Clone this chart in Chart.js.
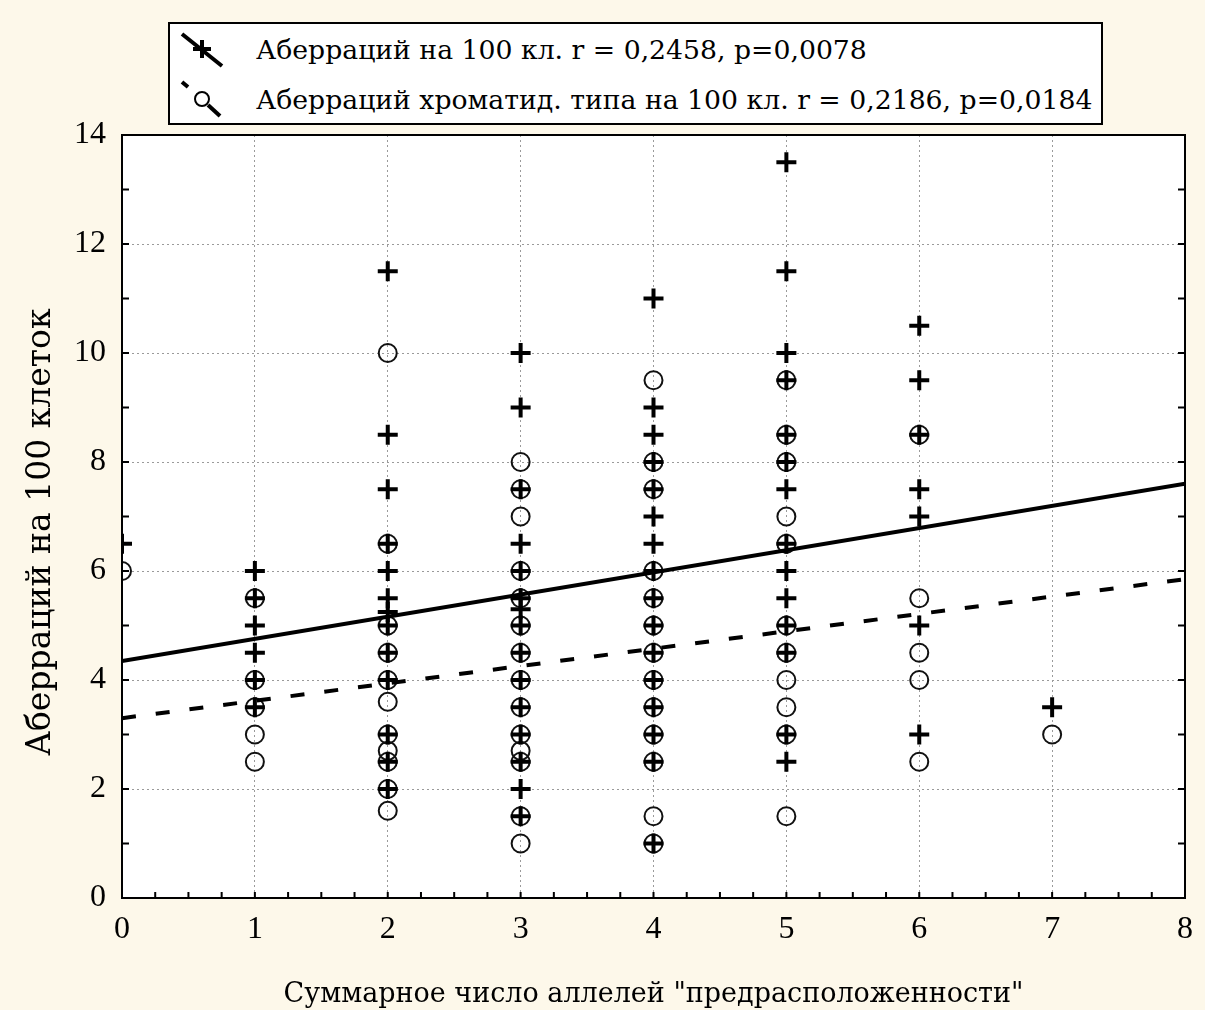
<!DOCTYPE html>
<html lang="ru">
<head>
  <meta charset="UTF-8" />
  <title>Аберрации и число аллелей</title>
  <script src="https://cdn.jsdelivr.net/npm/chart.js"></script>
  <style>
    html, body { margin: 0; padding: 0; background: #fdf8ea; }
    #wrap { position: relative; width: 1205px; height: 1010px; }
    #legend {
      position: absolute; left: 168px; top: 22px; width: 931px; height: 99px;
      border: 2px solid #000; background: #fff;
      font-family: "DejaVu Serif", serif; font-size: 26.7px; color: #000;
    }
    .row { position: absolute; left: 0; height: 50px; display: flex; align-items: center; }
    .row svg { width: 60px; height: 46px; margin-left: 6px; margin-right: 20px; }
  </style>
</head>
<body>
  <div id="wrap">
    <canvas id="chart"></canvas>
    <div id="legend">
      <div class="row" style="top:0px">
        <svg viewBox="0 0 60 46"><line x1="6" y1="8" x2="46" y2="40" stroke="#000" stroke-width="4"/><path d="M26 14v18M17 23h18" stroke="#000" stroke-width="4"/></svg>
        <span>Аберраций на 100 кл. r = 0,2458, p=0,0078</span>
      </div>
      <div class="row" style="top:50px">
        <svg viewBox="0 0 60 46"><line x1="6" y1="6" x2="12" y2="11" stroke="#000" stroke-width="4"/><circle cx="26" cy="23" r="7" fill="none" stroke="#000" stroke-width="2"/><line x1="32" y1="29" x2="44" y2="40" stroke="#000" stroke-width="4"/></svg>
        <span>Аберраций хроматид. типа на 100 кл. r = 0,2186, p=0,0184</span>
      </div>
    </div>
  </div>

  <script>
    // суммарное число аллелей "предрасположенности"
    const alleleCounts = [0, 1, 2, 3, 4, 5, 6, 7];

    // аберраций на 100 клеток, по каждому числу аллелей
    const totalAberr = [
      [6.5],
      [6, 5.5, 5, 4.5, 4, 3.5],
      [11.5, 8.5, 7.5, 6.5, 6, 5.5, 5.25, 5, 4.5, 4, 3, 2.5, 2],
      [10, 9, 7.5, 6.5, 6, 5.5, 5.3, 5, 4.5, 4, 3.5, 3, 2.5, 2, 1.5],
      [11, 9, 8.5, 8, 7.5, 7, 6.5, 6, 5.5, 5, 4.5, 4, 3.5, 3, 2.5, 1],
      [13.5, 11.5, 10, 9.5, 8.5, 8, 7.5, 6.5, 6, 5.5, 5, 4.5, 3, 2.5],
      [10.5, 9.5, 8.5, 7.5, 7, 5, 3],
      [3.5]
    ];

    // аберраций хроматидного типа на 100 клеток
    const chromAberr = [
      [6],
      [5.5, 4, 3.5, 3, 2.5],
      [10, 6.5, 5, 4.5, 4, 3.6, 3, 2.7, 2.5, 2, 1.6],
      [8, 7.5, 7, 6, 5.5, 5, 4.5, 4, 3.5, 3, 2.7, 2.5, 1.5, 1],
      [9.5, 8, 7.5, 6, 5.5, 5, 4.5, 4, 3.5, 3, 2.5, 1.5, 1],
      [9.5, 8.5, 8, 7, 6.5, 5, 4.5, 4, 3.5, 3, 1.5],
      [8.5, 5.5, 4.5, 4, 2.5],
      [3]
    ];

    // линии регрессии (концы на краях оси X)
    const trendX = [0, 8];
    const trendTotal = [4.35, 7.6];
    const trendChrom = [3.3, 5.85];

    const xTicks = [0, 1, 2, 3, 4, 5, 6, 7, 8];
    const yTicks = [0, 2, 4, 6, 8, 10, 12, 14];

    function toPoints(groups) {
      const pts = [];
      groups.forEach((vals, i) => vals.forEach(v => pts.push({ x: alleleCounts[i], y: v })));
      return pts;
    }

    const frame = {
      id: 'frame',
      beforeDraw(chart) {
        const { ctx, chartArea: a } = chart;
        ctx.save();
        ctx.fillStyle = '#fff';
        ctx.fillRect(a.left, a.top, a.width, a.height);
        ctx.restore();
      },
      afterDraw(chart) {
        const { ctx, chartArea: a, scales: { x, y } } = chart;
        ctx.save();
        ctx.strokeStyle = '#000';
        ctx.lineWidth = 2;
        ctx.strokeRect(a.left, a.top, a.width, a.height);
        ctx.beginPath();
        for (let v = 1; v < 14; v++) {
          const py = y.getPixelForValue(v);
          ctx.moveTo(a.left, py); ctx.lineTo(a.left + 7, py);
          ctx.moveTo(a.right, py); ctx.lineTo(a.right - 7, py);
        }
        for (let v = 0.25; v < 8; v += 0.25) {
          const px = x.getPixelForValue(v);
          ctx.moveTo(px, a.bottom); ctx.lineTo(px, a.bottom - 6);
        }
        ctx.stroke();
        ctx.restore();
      }
    };

    const tickFont = { family: '"Liberation Serif", serif', size: 32 };
    const xTitleFont = { family: '"DejaVu Serif", serif', size: 27, lineHeight: 1 };
    const yTitleFont = { family: '"DejaVu Serif", serif', size: 33, lineHeight: 1 };

    new Chart(document.getElementById('chart'), {
      type: 'scatter',
      data: {
        datasets: [
          {
            label: 'Аберраций на 100 кл.',
            data: trendX.map((x, i) => ({ x: x, y: trendTotal[i] })),
            showLine: true, borderColor: '#000', borderWidth: 4, pointRadius: 0, clip: 0
          },
          {
            label: 'Аберраций хроматид. типа на 100 кл.',
            data: trendX.map((x, i) => ({ x: x, y: trendChrom[i] })),
            showLine: true, borderColor: '#000', borderWidth: 4, borderDash: [14, 20], pointRadius: 0, clip: 0
          },
          {
            label: 'Аберраций на 100 кл.',
            data: toPoints(totalAberr),
            pointStyle: 'cross', pointRadius: 10, borderColor: '#000', borderWidth: 4, clip: 0
          },
          {
            label: 'Аберраций хроматид. типа на 100 кл.',
            data: toPoints(chromAberr),
            pointStyle: 'circle', pointRadius: 9, borderColor: '#111', borderWidth: 2,
            backgroundColor: 'rgba(0,0,0,0)', clip: 0
          }
        ]
      },
      options: {
        responsive: true,
        maintainAspectRatio: false,
        animation: false,
        layout: { padding: { left: 0, top: 135, right: 13, bottom: 0 } },
        plugins: { legend: { display: false }, tooltip: { enabled: false } },
        scales: {
          x: {
            min: 0, max: 8,
            afterFit: s => { s.height = 112; },
            afterBuildTicks: s => { s.ticks = xTicks.map(v => ({ value: v })); },
            grid: { color: '#9a9a9a', lineWidth: 1, drawTicks: false },
            border: { display: false, dash: [2, 3] },
            ticks: { color: '#000', font: tickFont, padding: 12, maxRotation: 0 },
            title: {
              display: true, text: 'Суммарное число аллелей "предрасположенности"',
              color: '#000', font: xTitleFont, padding: { top: 0, bottom: 2 }
            }
          },
          y: {
            min: 0, max: 14,
            afterFit: s => { s.width = 122; },
            afterBuildTicks: s => { s.ticks = yTicks.map(v => ({ value: v })); },
            grid: { color: '#9a9a9a', lineWidth: 1, drawTicks: false },
            border: { display: false, dash: [2, 3] },
            ticks: { color: '#000', font: tickFont, padding: 16 },
            title: {
              display: true, text: 'Аберраций на 100 клеток   ',
              color: '#000', font: yTitleFont, padding: { top: 25, bottom: 0 }
            }
          }
        }
      },
      plugins: [frame]
    });
  </script>
</body>
</html>
